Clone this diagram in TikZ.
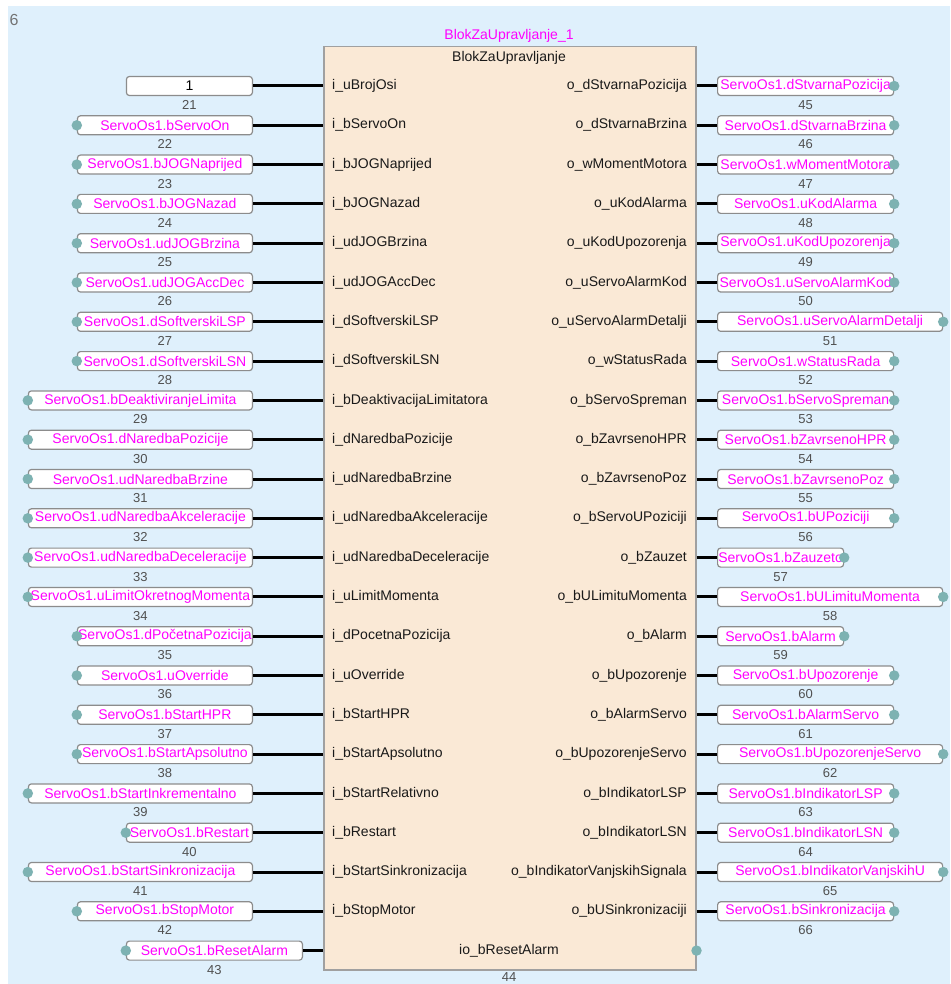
\documentclass[tikz,border=0pt]{standalone}
\usepackage{fontspec}
\setmainfont{Liberation Sans}
\usetikzlibrary{positioning,calc}
\definecolor{panelblue}{RGB}{223,240,252}
\definecolor{blockfill}{RGB}{250,233,214}
\definecolor{blockline}{RGB}{160,160,160}
\definecolor{boxline}{RGB}{140,140,140}
\definecolor{varpink}{RGB}{255,0,255}
\definecolor{pinteal}{RGB}{125,178,178}
\definecolor{numgray}{RGB}{80,80,80}
\tikzset{
  varbox/.style={draw=boxline, fill=white, line width=1.2pt, rounded corners=3pt, minimum height=19pt, inner sep=0pt, text=varpink, font=\fontsize{14}{16}\selectfont},
  portdot/.style={circle, fill=pinteal, minimum size=10.5pt, inner sep=0pt},
  wire/.style={line width=3pt, black},
  portlbl/.style={inner sep=0pt, text=black!90, font=\fontsize{14}{16}\selectfont},
  numlbl/.style={inner sep=0pt, text=numgray, font=\fontsize{13}{15}\selectfont},
  fbblock/.style={draw=blockline, fill=blockfill, line width=1.5pt, inner sep=0pt}
}

\begin{document}
\begin{tikzpicture}[x=1pt,y=-1pt]
\path[use as bounding box] (0,0) rectangle (950,984);
\fill[panelblue] (8,6) rectangle (950,984);
\node[numlbl, text=black!55, font=\fontsize{16}{18}\selectfont] (sheet) at (14,20) {6};

% function block
\node[fbblock, minimum width=372pt, minimum height=923pt, anchor=north west] (blk) at (323,46) {};
\node[portlbl, text=varpink] (inst) at (509,36) {BlokZaUpravljanje\_1};
\node[portlbl] (type) at (509,58) {BlokZaUpravljanje};

% inputs
\node[varbox, text=black, minimum width=126pt, anchor=east] (in21) at (253,86) {1};
\node[numlbl] (num21) at ([yshift=-19pt]in21.center) {21};
\node[portlbl, anchor=west] (pi21) at (332,86) {i\_uBrojOsi};
\draw[wire] (in21) -- (pi21.west -| blk.west);

\foreach \k/\n/\w/\v/\p in {
  1/22/175/bServoOn/i\_bServoOn,
  2/23/175/bJOGNaprijed/i\_bJOGNaprijed,
  3/24/175/bJOGNazad/i\_bJOGNazad,
  4/25/175/udJOGBrzina/i\_udJOGBrzina,
  5/26/175/udJOGAccDec/i\_udJOGAccDec,
  6/27/175/dSoftverskiLSP/i\_dSoftverskiLSP,
  7/28/175/dSoftverskiLSN/i\_dSoftverskiLSN,
  8/29/224/bDeaktiviranjeLimita/i\_bDeaktivacijaLimitatora,
  9/30/224/dNaredbaPozicije/i\_dNaredbaPozicije,
  10/31/224/udNaredbaBrzine/i\_udNaredbaBrzine,
  11/32/224/udNaredbaAkceleracije/i\_udNaredbaAkceleracije,
  12/33/224/udNaredbaDeceleracije/i\_udNaredbaDeceleracije,
  13/34/224/uLimitOkretnogMomenta/i\_uLimitMomenta,
  14/35/175/dPočetnaPozicija/i\_dPocetnaPozicija,
  15/36/175/uOverride/i\_uOverride,
  16/37/175/bStartHPR/i\_bStartHPR,
  17/38/175/bStartApsolutno/i\_bStartApsolutno,
  18/39/224/bStartInkrementalno/i\_bStartRelativno,
  19/40/126/bRestart/i\_bRestart,
  20/41/224/bStartSinkronizacija/i\_bStartSinkronizacija,
  21/42/175/bStopMotor/i\_bStopMotor}{
  \pgfmathsetmacro\yy{86+39.3*\k}
  \node[varbox, minimum width=\w pt, anchor=east] (in\n) at (253,\yy) {ServoOs1.\v};
  \node[portdot] (dot\n) at (in\n.west) {};
  \node[numlbl] (num\n) at ([yshift=-19pt]in\n.center) {\n};
  \node[portlbl, anchor=west] (pi\n) at (332,\yy) {\p};
  \draw[wire] (in\n) -- (pi\n.west -| blk.west);
}

% in/out
\node[varbox, minimum width=176pt, anchor=east] (in43) at (303,950.6) {ServoOs1.bResetAlarm};
\node[portdot] (dot43) at (in43.west) {};
\node[numlbl] (num43) at ([yshift=-19pt]in43.center) {43};
\node[portlbl] (pi43) at (509,950.6) {io\_bResetAlarm};
\draw[wire] (in43) -- (pi43 -| blk.west);
\node[portdot] (dot44) at (pi43 -| blk.east) {};
\node[numlbl] (num44) at (509,977) {44};

% outputs
\foreach \k/\n/\w/\v/\p in {
  0/45/176/dStvarnaPozicija/o\_dStvarnaPozicija,
  1/46/176/dStvarnaBrzina/o\_dStvarnaBrzina,
  2/47/176/wMomentMotora/o\_wMomentMotora,
  3/48/176/uKodAlarma/o\_uKodAlarma,
  4/49/176/uKodUpozorenja/o\_uKodUpozorenja,
  5/50/176/uServoAlarmKod/o\_uServoAlarmKod,
  6/51/225/uServoAlarmDetalji/o\_uServoAlarmDetalji,
  7/52/176/wStatusRada/o\_wStatusRada,
  8/53/176/bServoSpreman/o\_bServoSpreman,
  9/54/176/bZavrsenoHPR/o\_bZavrsenoHPR,
  10/55/176/bZavrsenoPoz/o\_bZavrsenoPoz,
  11/56/176/bUPoziciji/o\_bServoUPoziciji,
  12/57/126/bZauzeto/o\_bZauzet,
  13/58/225/bULimituMomenta/o\_bULimituMomenta,
  14/59/126/bAlarm/o\_bAlarm,
  15/60/176/bUpozorenje/o\_bUpozorenje,
  16/61/176/bAlarmServo/o\_bAlarmServo,
  17/62/225/bUpozorenjeServo/o\_bUpozorenjeServo,
  18/63/176/bIndikatorLSP/o\_bIndikatorLSP,
  19/64/176/bIndikatorLSN/o\_bIndikatorLSN,
  20/65/225/bIndikatorVanjskihU/o\_bIndikatorVanjskihSignala,
  21/66/176/bSinkronizacija/o\_bUSinkronizaciji}{
  \pgfmathsetmacro\yy{86+39.3*\k}
  \node[varbox, minimum width=\w pt, anchor=west] (out\n) at (717,\yy) {ServoOs1.\v};
  \node[portdot] (dot\n) at (out\n.east) {};
  \node[numlbl] (num\n) at ([yshift=-19pt]out\n.center) {\n};
  \node[portlbl, anchor=east] (po\n) at (687,\yy) {\p};
  \draw[wire] (po\n.east -| blk.east) -- (out\n);
}
\end{tikzpicture}
\end{document}
